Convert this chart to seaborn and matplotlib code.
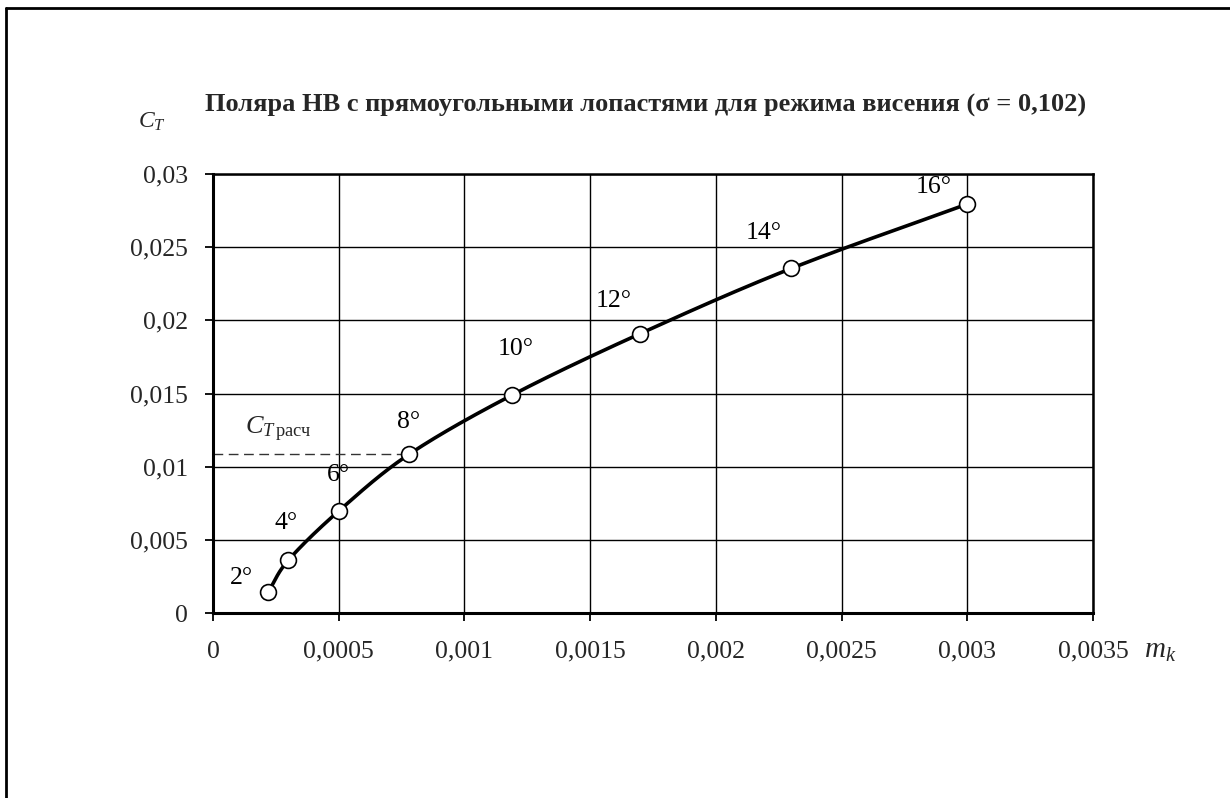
import numpy as np
import pandas as pd
import matplotlib
matplotlib.use("Agg")
import matplotlib.pyplot as plt
from matplotlib.lines import Line2D
import seaborn as sns

# Hover polar of the main rotor: torque coefficient m_k vs thrust coefficient C_T
pitch_labels = ["2°", "4°", "6°", "8°", "10°", "12°", "14°", "16°"]
m_k = [0.00022, 0.00030, 0.00050, 0.00078, 0.00119, 0.00170, 0.00230, 0.00300]
c_t = [0.00145, 0.00362, 0.00697, 0.01085, 0.01490, 0.01910, 0.02355, 0.02795]
ct_design = 0.01085
x_ticks = [0, 0.0005, 0.001, 0.0015, 0.002, 0.0025, 0.003, 0.0035]
x_tick_labels = ["0", "0,0005", "0,001", "0,0015", "0,002", "0,0025", "0,003", "0,0035"]
y_ticks = [0, 0.005, 0.01, 0.015, 0.02, 0.025, 0.03]
y_tick_labels = ["0", "0,005", "0,01", "0,015", "0,02", "0,025", "0,03"]

# label offsets (pixels) for the pitch-angle annotations
label_offsets = [(-27, 14), (-2, 37), (0, 36), (-1, 32), (3, 46), (-27, 33), (-28, 35), (-34, 17)]

sns.set_theme(style="white")
plt.rcParams["font.family"] = ["Liberation Serif", "DejaVu Serif"]
plt.rcParams["mathtext.fontset"] = "custom"
plt.rcParams["mathtext.rm"] = "Liberation Serif"
plt.rcParams["mathtext.it"] = "Liberation Serif:italic"
plt.rcParams["mathtext.bf"] = "Liberation Serif:bold"

df = pd.DataFrame({"m_k": m_k, "c_t": c_t, "angle": pitch_labels})


def catmull_rom(xs, ys, sx, sy, n=40):
    """Smooth parametric curve through the points (normalised by axis spans)."""
    p = np.column_stack([np.asarray(xs) / sx, np.asarray(ys) / sy])
    p = np.vstack([2 * p[0] - p[1], p, 2 * p[-1] - p[-2]])
    out = []
    for i in range(1, len(p) - 2):
        p0, p1, p2, p3 = p[i - 1], p[i], p[i + 1], p[i + 2]
        t = np.linspace(0, 1, n, endpoint=(i == len(p) - 3))[:, None]
        seg = 0.5 * ((2 * p1) + (-p0 + p2) * t + (2 * p0 - 5 * p1 + 4 * p2 - p3) * t ** 2
                     + (-p0 + 3 * p1 - 3 * p2 + p3) * t ** 3)
        out.append(seg)
    out = np.vstack(out)
    return out[:, 0] * sx, out[:, 1] * sy


fig = plt.figure(figsize=(12.3, 7.98), dpi=100)
ax = fig.add_axes([0.1732, 0.2318, 0.7154, 0.5501])

ax.set_xlim(0, 0.0035)
ax.set_ylim(0, 0.03)

# grid
ax.set_xticks(x_ticks)
ax.set_yticks(y_ticks)
ax.grid(True, color="black", linewidth=1.0)
ax.set_axisbelow(True)

# reference line for the design thrust coefficient
ax.plot([0, m_k[3]], [ct_design, ct_design], color="#333333", linewidth=1.0,
        linestyle=(0, (7, 4)), zorder=2)

sx, sy = catmull_rom(m_k, c_t, 0.0035, 0.03)
smooth = pd.DataFrame({"m_k": sx, "c_t": sy})
sns.lineplot(data=smooth, x="m_k", y="c_t", ax=ax, color="black", linewidth=2.6,
             sort=False, zorder=3)
sns.scatterplot(data=df, x="m_k", y="c_t", ax=ax, s=130, color="white",
                edgecolor="black", linewidth=1.2, zorder=4)

for xv, yv, lab, (dx, dy) in zip(m_k, c_t, pitch_labels, label_offsets):
    ax.annotate(lab, (xv, yv), xytext=(dx * 0.72, dy * 0.72), textcoords="offset points",
                ha="center", va="center", fontsize=18.5, color="black", zorder=5)

ax.annotate(r"$C_{T\,\mathrm{расч}}$", (0, ct_design), xytext=(32 * 0.72, 10 * 0.72),
            textcoords="offset points", ha="left", va="bottom", fontsize=19)

ax.set_xticklabels(x_tick_labels, fontsize=18.5)
ax.set_yticklabels(y_tick_labels, fontsize=18.5)
ax.tick_params(axis="both", direction="out", length=6, width=1.3, color="black",
               bottom=True, left=True)
ax.tick_params(axis="y", pad=12)
ax.tick_params(axis="x", pad=14)
ax.set_xlabel("")
ax.set_ylabel("")

for side in ["left", "bottom", "top", "right"]:
    ax.spines[side].set_color("black")
    ax.spines[side].set_linewidth(1.8)
ax.spines["left"].set_linewidth(2.2)
ax.spines["bottom"].set_linewidth(2.2)

# axis names and title
fig.text(152 / 1230, 1 - 122 / 798, r"$C_T$", fontsize=17, ha="center", va="center")
fig.text(1160 / 1230, 1 - 651 / 798, r"$m_k$", fontsize=21, ha="center", va="center")
fig.text(205 / 1230, 1 - 105 / 798,
         "Поляра НВ с прямоугольными лопастями для режима висения (σ = 0,102)",
         fontsize=19, fontweight="bold", ha="left", va="center")

# outer frame (top and left edges)
fig.add_artist(Line2D([6 / 1230, 1.0], [1 - 8 / 798, 1 - 8 / 798], transform=fig.transFigure,
                      color="black", linewidth=2.0))
fig.add_artist(Line2D([6 / 1230, 6 / 1230], [0.0, 1 - 8 / 798], transform=fig.transFigure,
                      color="black", linewidth=2.0))

fig.savefig("out.png", dpi=100, facecolor="white")
